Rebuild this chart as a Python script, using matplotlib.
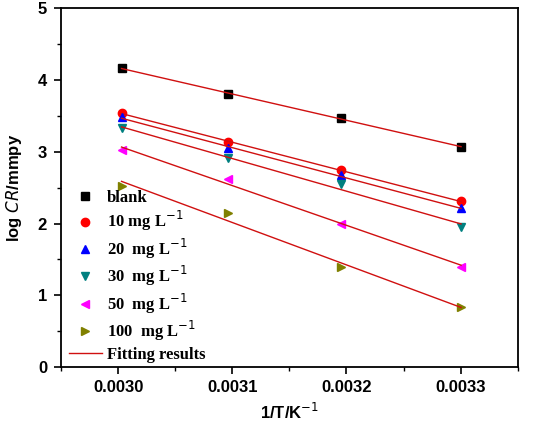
import numpy as np
import matplotlib
matplotlib.use("Agg")
import matplotlib.pyplot as plt

inv_T = [1/333, 1/323, 1/313, 1/303]
series_labels = ["blank", "10 mg L$^{-1}$", "20  mg L$^{-1}$", "30  mg L$^{-1}$",
                 "50  mg L$^{-1}$", "100  mg L$^{-1}$"]
blank = [4.17, 3.80, 3.47, 3.07]
c10 = [3.54, 3.14, 2.74, 2.31]
c20 = [3.48, 3.05, 2.67, 2.21]
c30 = [3.33, 2.91, 2.55, 1.95]
c50 = [3.02, 2.62, 2.00, 1.40]
c100 = [2.53, 2.15, 1.40, 0.83]
series = [blank, c10, c20, c30, c50, c100]
markers = ["s", "o", "^", "v", "<", ">"]
colors = ["black", "red", "blue", "#008080", "magenta", "#808000"]
xticks = [0.0030, 0.0031, 0.0032, 0.0033]
xticklabels = ["0.0030", "0.0031", "0.0032", "0.0033"]

fig = plt.figure(figsize=(5.52, 4.24), dpi=100)
ax = fig.add_axes([0.1105, 0.1344, 0.8275, 0.846])

x = np.array(inv_T)
handles = []
for ys, m, c, lab in zip(series, markers, colors, series_labels):
    h, = ax.plot(x, ys, linestyle="none", marker=m, color=c, markersize=6, label=lab)
    handles.append(h)
    k, b = np.polyfit(x, ys, 1)
    xf = np.array([x.min(), x.max()])
    fit, = ax.plot(xf, k*xf + b, color="#d01010", lw=1.0)
fit.set_label("Fitting results")
handles.append(fit)

ax.set_xlim(0.002951, 0.00335)
ax.set_ylim(0, 5)
ax.set_xticks(xticks)
ax.set_xticklabels(xticklabels)
ax.set_xticks([0.00295, 0.00305, 0.00315, 0.00325, 0.00335], minor=True)
ax.set_yticks([0, 1, 2, 3, 4, 5])
ax.set_yticks([0.5, 1.5, 2.5, 3.5, 4.5], minor=True)
ax.tick_params(which="both", direction="out", top=False, right=False)
ax.tick_params(which="major", length=5, width=1.2, labelsize=12)
ax.tick_params(axis="x", which="major", pad=4)
ax.tick_params(axis="y", which="major", pad=5)
ax.tick_params(which="minor", length=3, width=1.0)
for lbl in ax.get_xticklabels() + ax.get_yticklabels():
    lbl.set_fontfamily("Liberation Sans")
    lbl.set_fontweight("bold")
for s in ax.spines.values():
    s.set_linewidth(1.3)

ax.set_xlabel("1/T/K$^{-1}$", fontsize=12, fontfamily="Liberation Sans", fontweight="bold", labelpad=5)
ax.set_ylabel(r"log $\mathbf{\mathit{CR}}$/mmpy", fontsize=12, fontfamily="Liberation Sans", fontweight="bold", labelpad=10)

leg = ax.legend(handles=handles, loc="lower left", bbox_to_anchor=(-0.009, -0.02), frameon=False,
                prop={"family": "Liberation Serif", "weight": "bold", "size": 12},
                handlelength=2.0, handletextpad=0.3, labelspacing=0.2, borderaxespad=0.3)

fig.savefig("out.png", dpi=100)
